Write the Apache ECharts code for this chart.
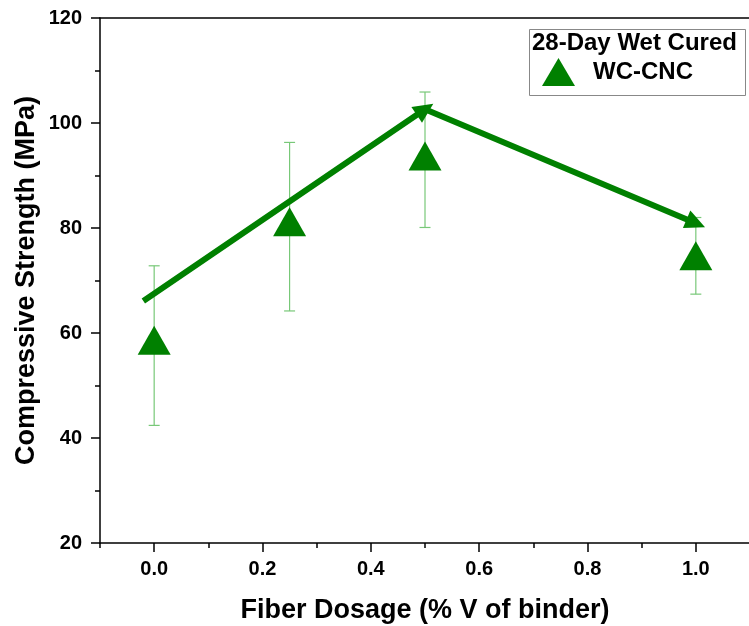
<!DOCTYPE html>
<html><head><meta charset="utf-8">
<script src="https://cdn.jsdelivr.net/npm/echarts@6/dist/echarts.min.js"></script>
<style>html,body{margin:0;padding:0;background:#fff}#c{width:749px;height:626px}</style>
</head><body><div id="c"></div>
<script>
// Data
const dosage = [0.0, 0.25, 0.5, 1.0];
const strength = [58.6, 81.2, 93.7, 74.7];
const errLow = [42.4, 64.2, 80.1, 67.4];
const errHigh = [72.8, 96.3, 105.9, 82.0];
const trendX = [-0.02, 0.5, 1.0];
const trendY = [66.1, 102.6, 80.9];
const xMajorTicks = [0.0, 0.2, 0.4, 0.6, 0.8, 1.0];
const xMinorTicks = [-0.1, 0.1, 0.3, 0.5, 0.7, 0.9, 1.1];

const FONT = '"Liberation Sans", Arial, sans-serif';
const chart = echarts.init(document.getElementById('c'), null, {renderer: 'canvas'});

const trendData = trendX.map((x, i) => ({
  value: [x, trendY[i]],
  symbol: i === 0 ? 'none' : 'triangle',
  symbolSize: [19, 20],
  symbolRotate: i === 1 ? -56 : -113
}));

chart.setOption({
  animation: false,
  backgroundColor: '#fff',
  title: {
    text: '28-Day Wet Cured', left: 532, top: 31, padding: 0,
    textStyle: {fontFamily: FONT, fontWeight: 'bold', fontSize: 24, color: '#000'}
  },
  legend: {
    data: [{name: 'WC-CNC', icon: 'triangle'}],
    left: 542, top: 58, padding: 0, itemWidth: 33, itemHeight: 28, itemGap: 10,
    textStyle: {fontFamily: FONT, fontWeight: 'bold', fontSize: 24, color: '#000', padding: [3, 0, 0, 13]}
  },
  graphic: [{
    type: 'rect', left: 527, top: 27, shape: {width: 216, height: 66},
    style: {fill: 'none', stroke: '#888', lineWidth: 1}, z: -1
  }],
  grid: {left: 100, top: 18, width: 650, height: 525, outerBoundsMode: 'none', containLabel: false},
  xAxis: [{
    type: 'value', min: -0.1, max: 1.1, position: 'bottom',
    name: 'Fiber Dosage (% V of binder)', nameLocation: 'middle', nameGap: 54, nameMoveOverlap: false,
    nameTextStyle: {fontFamily: FONT, fontWeight: 'bold', fontSize: 27, color: '#000'},
    axisLine: {onZero: false, lineStyle: {color: '#000', width: 1.5}},
    axisTick: {show: true, length: 9, inside: false, customValues: xMajorTicks, lineStyle: {color: '#000', width: 1.5}},
    axisLabel: {customValues: xMajorTicks, formatter: v => v.toFixed(1), margin: 16,
      fontFamily: FONT, fontWeight: 'bold', fontSize: 20, color: '#000'},
    splitLine: {show: false}
  }, {
    type: 'value', min: -0.1, max: 1.1, position: 'bottom',
    axisLine: {show: false, onZero: false},
    axisTick: {show: true, length: 5, customValues: xMinorTicks, lineStyle: {color: '#000', width: 1.5}},
    axisLabel: {show: false}, splitLine: {show: false}
  }, {
    type: 'value', min: -0.1, max: 1.1, position: 'top',
    axisLine: {show: true, onZero: false, lineStyle: {color: '#000', width: 1.5}},
    axisTick: {show: false}, axisLabel: {show: false}, splitLine: {show: false}
  }],
  yAxis: {
    type: 'value', min: 20, max: 120, interval: 20,
    name: 'Compressive Strength (MPa)', nameLocation: 'middle', nameGap: 60, nameRotate: 90, nameMoveOverlap: false,
    nameTextStyle: {fontFamily: FONT, fontWeight: 'bold', fontSize: 27, color: '#000'},
    axisLine: {show: true, onZero: false, lineStyle: {color: '#000', width: 1.5}},
    axisTick: {show: true, length: 9, lineStyle: {color: '#000', width: 1.5}},
    minorTick: {show: true, splitNumber: 2, length: 5, lineStyle: {color: '#000', width: 1.5}},
    axisLabel: {margin: 18, fontFamily: FONT, fontWeight: 'bold', fontSize: 20, color: '#000'},
    splitLine: {show: false}
  },
  series: [{
    name: 'errors', type: 'custom', xAxisIndex: 0,
    data: dosage.map((x, i) => [x, errLow[i], errHigh[i]]),
    renderItem: (params, api) => {
      const lo = api.coord([api.value(0), api.value(1)]);
      const hi = api.coord([api.value(0), api.value(2)]);
      const w = 5.5;
      const st = {stroke: '#78c878', lineWidth: 1.2};
      return {type: 'group', children: [
        {type: 'line', shape: {x1: hi[0], y1: hi[1], x2: lo[0], y2: lo[1]}, style: st},
        {type: 'line', shape: {x1: hi[0] - w, y1: hi[1], x2: hi[0] + w, y2: hi[1]}, style: st},
        {type: 'line', shape: {x1: lo[0] - w, y1: lo[1], x2: lo[0] + w, y2: lo[1]}, style: st}
      ]};
    },
    z: 1, silent: true
  }, {
    name: 'trend', type: 'line', xAxisIndex: 0,
    data: trendData,
    lineStyle: {color: '#008000', width: 6},
    itemStyle: {color: '#008000', opacity: 1},
    z: 2, silent: true
  }, {
    name: 'WC-CNC', type: 'scatter', xAxisIndex: 0,
    data: dosage.map((x, i) => [x, strength[i]]),
    symbol: 'triangle', symbolSize: [33, 29],
    itemStyle: {color: '#008000', opacity: 1},
    z: 3
  }]
});
</script></body></html>
